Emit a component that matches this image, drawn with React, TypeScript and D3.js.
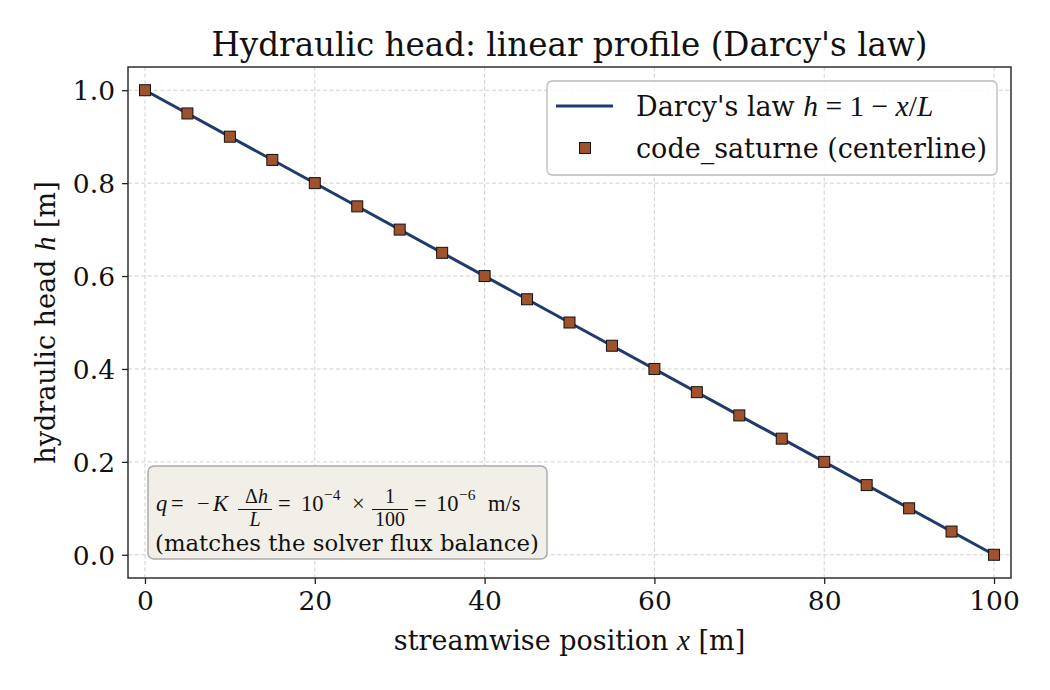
import React, { useEffect, useRef } from "react";
import * as d3 from "d3";

const title = "Hydraulic head: linear profile (Darcy's law)";
const xTicks = [0, 20, 40, 60, 80, 100];
const yTicks = [0.0, 0.2, 0.4, 0.6, 0.8, 1.0];

// analytic line (two end points of h = 1 - x/L)
const darcyX = [0, 100];
const darcyH = [1.0, 0.0];

// solver samples along the centerline
const solverX = [0, 5, 10, 15, 20, 25, 30, 35, 40, 45, 50, 55, 60, 65, 70, 75, 80, 85, 90, 95, 100];
const solverH = [1.0, 0.95, 0.9, 0.85, 0.8, 0.75, 0.7, 0.65, 0.6, 0.55, 0.5, 0.45, 0.4, 0.35, 0.3, 0.25, 0.2, 0.15, 0.1, 0.05, 0.0];

const W = 1050, H = 690;
const margin = { left: 128, right: 1050 - 1011, top: 67, bottom: 690 - 578 };
const FONT = "DejaVu Serif";
const MATH = "Liberation Serif";
const lineColor = "#1f3a6e";
const markerColor = "#a0522d";

const App = () => {
  const ref = useRef<SVGSVGElement>(null);

  useEffect(() => {
    const svg = d3.select(ref.current);
    svg.selectAll("*").remove();
    svg.style("font-family", FONT);

    const x = d3.scaleLinear().domain([-2, 102]).range([margin.left, W - margin.right]);
    const y = d3.scaleLinear().domain([-0.05, 1.05]).range([H - margin.bottom, margin.top]);

    svg.append("rect").attr("width", W).attr("height", H).attr("fill", "#fff");

    // grid
    const grid = svg.append("g").attr("stroke", "#cccccc").attr("stroke-width", 0.9).attr("stroke-dasharray", "4,2.5");
    xTicks.forEach(t => grid.append("line").attr("x1", x(t)).attr("x2", x(t)).attr("y1", margin.top).attr("y2", H - margin.bottom));
    yTicks.forEach(t => grid.append("line").attr("y1", y(t)).attr("y2", y(t)).attr("x1", margin.left).attr("x2", W - margin.right));

    // axes
    const xAxis = svg.append("g")
      .attr("transform", `translate(0,${H - margin.bottom})`)
      .call(d3.axisBottom(x).tickValues(xTicks).tickSize(6).tickPadding(7).tickFormat(d3.format("d")));
    const yAxis = svg.append("g")
      .attr("transform", `translate(${margin.left},0)`)
      .call(d3.axisLeft(y).tickValues(yTicks).tickSize(6).tickPadding(7).tickFormat(d3.format(".1f")));
    [xAxis, yAxis].forEach(a => {
      a.select(".domain").remove();
      a.selectAll("line").attr("stroke", "#222").attr("stroke-width", 1.3);
      a.selectAll("text").attr("font-family", FONT).attr("font-size", 26.5).attr("fill", "#111");
    });
    yAxis.selectAll("text").attr("dy", "0.36em");

    svg.append("rect")
      .attr("x", margin.left).attr("y", margin.top)
      .attr("width", W - margin.left - margin.right).attr("height", H - margin.top - margin.bottom)
      .attr("fill", "none").attr("stroke", "#222").attr("stroke-width", 1.4);

    // darcy line
    const line = d3.line<number>().x((d, i) => x(darcyX[i])).y(d => y(d));
    svg.append("path").datum(darcyH).attr("d", line)
      .attr("fill", "none").attr("stroke", lineColor).attr("stroke-width", 3);

    // markers
    const ms = 11;
    svg.append("g").selectAll("rect").data(solverH).enter().append("rect")
      .attr("x", (d, i) => x(solverX[i]) - ms / 2).attr("y", d => y(d) - ms / 2)
      .attr("width", ms).attr("height", ms)
      .attr("fill", markerColor).attr("stroke", "#111").attr("stroke-width", 1);

    // title & labels
    svg.append("text").attr("x", (margin.left + W - margin.right) / 2).attr("y", 56)
      .attr("text-anchor", "middle").attr("font-size", 32.6).attr("fill", "#111").text(title);

    const xl = svg.append("text").attr("x", (margin.left + W - margin.right) / 2).attr("y", 650)
      .attr("text-anchor", "middle").attr("font-size", 27).attr("fill", "#111");
    xl.append("tspan").text("streamwise position ");
    xl.append("tspan").attr("font-family", MATH).attr("font-style", "italic").attr("font-size", 29).text("x");
    xl.append("tspan").text(" [m]");

    const yl = svg.append("text").attr("transform", `translate(55,${(margin.top + H - margin.bottom) / 2}) rotate(-90)`)
      .attr("text-anchor", "middle").attr("font-size", 27).attr("fill", "#111");
    yl.append("tspan").text("hydraulic head ");
    yl.append("tspan").attr("font-family", MATH).attr("font-style", "italic").attr("font-size", 29).text("h");
    yl.append("tspan").text(" [m]");

    // legend
    const lg = svg.append("g");
    lg.append("rect").attr("x", 547).attr("y", 81).attr("width", 450).attr("height", 94).attr("rx", 5)
      .attr("fill", "#fff").attr("fill-opacity", 0.85).attr("stroke", "#bbb").attr("stroke-width", 1.3);
    lg.append("line").attr("x1", 556).attr("x2", 613).attr("y1", 106).attr("y2", 106)
      .attr("stroke", lineColor).attr("stroke-width", 3);
    const t1 = lg.append("text").attr("x", 636).attr("y", 116).attr("font-size", 27).attr("fill", "#111");
    t1.append("tspan").text("Darcy's law ");
    const m = (s: string, it = false) => t1.append("tspan").attr("font-family", MATH).attr("font-size", 29.5)
      .attr("font-style", it ? "italic" : "normal").text(s);
    m("h", true); m(" = 1 − "); m("x", true); m("/"); m("L", true);
    lg.append("rect").attr("x", 585 - ms / 2).attr("y", 148 - ms / 2).attr("width", ms).attr("height", ms)
      .attr("fill", markerColor).attr("stroke", "#111").attr("stroke-width", 1);
    lg.append("text").attr("x", 636).attr("y", 158).attr("font-size", 27).attr("fill", "#111")
      .text("code_saturne (centerline)");

    // annotation box
    const an = svg.append("g");
    an.append("rect").attr("x", 148).attr("y", 466).attr("width", 399).attr("height", 93).attr("rx", 6)
      .attr("fill", "#f2efe8").attr("stroke", "#aaa").attr("stroke-width", 1.5);
    const fs = 22.5, ff = 20, base = 511;
    const eq = an.append("text").attr("font-family", MATH).attr("font-size", fs).attr("fill", "#111");
    const part = (xx: number, yy: number, s: string, italic = false, size = fs, anchor = "start") =>
      eq.append("tspan").attr("x", xx).attr("y", yy).attr("font-size", size)
        .attr("font-style", italic ? "italic" : "normal").attr("text-anchor", anchor).text(s);
    part(156, base, "q", true);
    part(171, base, "=");
    part(197, base, "−");
    part(213, base, "K", true);
    part(245, 503, "Δ", false, ff);
    eq.append("tspan").attr("font-size", ff).attr("font-style", "italic").text("h");
    part(255, 525.5, "L", true, ff, "middle");
    part(278, base, "=");
    part(301, base, "10");
    part(324, 500, "−4", false, 15.5);
    part(352, base, "×");
    part(390, 503, "1", false, ff, "middle");
    part(390, 525.5, "100", false, ff, "middle");
    part(414, base, "=");
    part(436, base, "10");
    part(459, 500, "−6", false, 15.5);
    part(488, base, "m/s");
    an.append("line").attr("x1", 238).attr("x2", 272).attr("y1", 509.5).attr("y2", 509.5).attr("stroke", "#111").attr("stroke-width", 1.1);
    an.append("line").attr("x1", 372).attr("x2", 408).attr("y1", 509.5).attr("y2", 509.5).attr("stroke", "#111").attr("stroke-width", 1.1);
    an.append("text").attr("x", 155).attr("y", 551).attr("font-size", 22.8).attr("fill", "#111")
      .text("(matches the solver flux balance)");
  }, []);

  return <svg ref={ref} width={W} height={H} style={{ display: "block", margin: "-8px" }} />;
};

export default App;
